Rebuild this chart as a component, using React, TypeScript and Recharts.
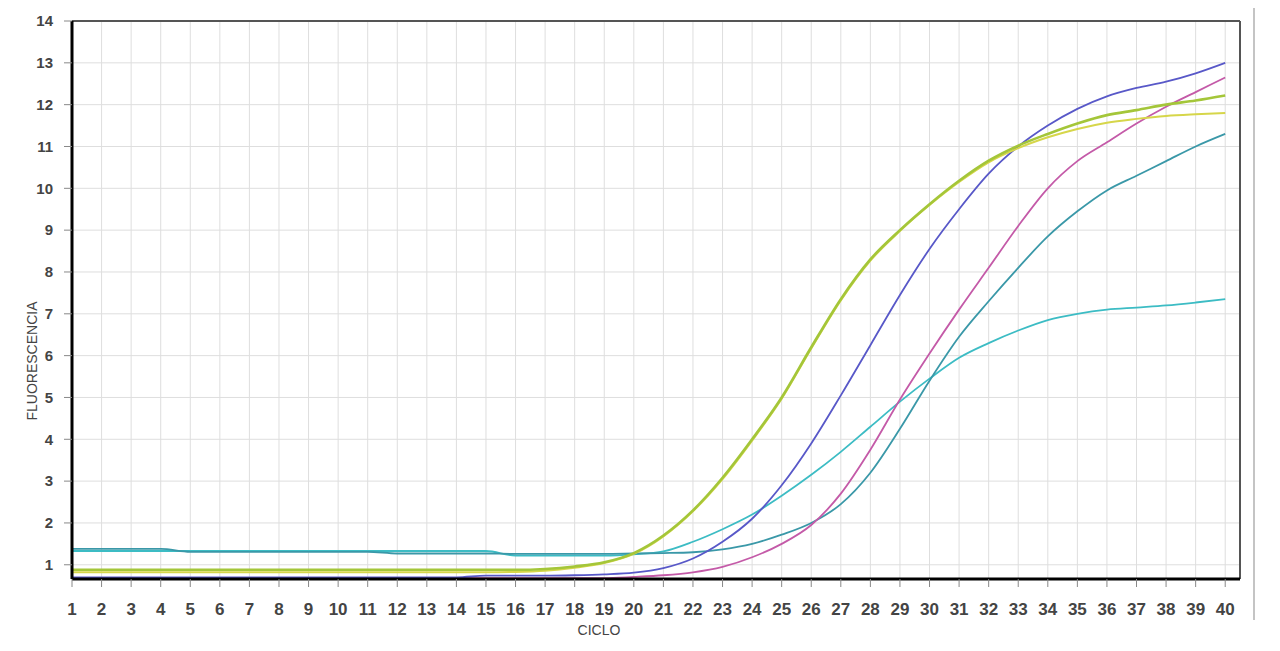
import React from 'react';
import { LineChart, Line, XAxis, YAxis, CartesianGrid, ReferenceLine } from 'recharts';

const cycles = [1, 2, 3, 4, 5, 6, 7, 8, 9, 10, 11, 12, 13, 14, 15, 16, 17, 18, 19, 20, 21, 22, 23, 24, 25, 26, 27, 28, 29, 30, 31, 32, 33, 34, 35, 36, 37, 38, 39, 40];

const greenA = [0.88, 0.88, 0.88, 0.88, 0.88, 0.88, 0.88, 0.88, 0.88, 0.88, 0.88, 0.88, 0.88, 0.88, 0.88, 0.88, 0.9, 0.96, 1.06, 1.28, 1.7, 2.3, 3.08, 4.0, 5.0, 6.2, 7.35, 8.3, 9.0, 9.62, 10.18, 10.66, 11.02, 11.3, 11.55, 11.75, 11.87, 12.0, 12.1, 12.22];
const yellowB = [0.82, 0.82, 0.82, 0.82, 0.82, 0.82, 0.82, 0.82, 0.82, 0.82, 0.82, 0.82, 0.82, 0.82, 0.82, 0.83, 0.86, 0.93, 1.04, 1.26, 1.68, 2.28, 3.05, 3.97, 4.97, 6.17, 7.32, 8.27, 8.98, 9.6, 10.15, 10.62, 10.96, 11.22, 11.42, 11.57, 11.66, 11.73, 11.77, 11.8];
const blue = [0.7, 0.7, 0.7, 0.7, 0.7, 0.7, 0.7, 0.7, 0.7, 0.7, 0.7, 0.7, 0.7, 0.7, 0.74, 0.74, 0.74, 0.75, 0.77, 0.81, 0.92, 1.15, 1.55, 2.1, 2.9, 3.9, 5.05, 6.25, 7.45, 8.55, 9.5, 10.35, 11.0, 11.5, 11.9, 12.2, 12.4, 12.55, 12.75, 13.0];
const pink = [0.68, 0.68, 0.68, 0.68, 0.68, 0.68, 0.68, 0.68, 0.68, 0.68, 0.68, 0.68, 0.68, 0.68, 0.68, 0.68, 0.68, 0.68, 0.68, 0.71, 0.75, 0.82, 0.95, 1.18, 1.5, 1.95, 2.7, 3.75, 4.95, 6.05, 7.1, 8.1, 9.1, 10.0, 10.65, 11.1, 11.55, 11.95, 12.3, 12.65];
const darkTeal = [1.38, 1.38, 1.38, 1.38, 1.31, 1.31, 1.31, 1.31, 1.31, 1.31, 1.31, 1.27, 1.27, 1.27, 1.27, 1.26, 1.26, 1.26, 1.26, 1.27, 1.28, 1.3, 1.37, 1.5, 1.72, 2.0, 2.45, 3.2, 4.25, 5.4, 6.45, 7.3, 8.1, 8.85, 9.45, 9.95, 10.3, 10.65, 11.0, 11.3];
const lightTeal = [1.33, 1.33, 1.33, 1.33, 1.33, 1.33, 1.33, 1.33, 1.33, 1.33, 1.33, 1.33, 1.33, 1.33, 1.33, 1.22, 1.22, 1.22, 1.22, 1.25, 1.32, 1.55, 1.85, 2.2, 2.65, 3.15, 3.7, 4.3, 4.9, 5.45, 5.95, 6.3, 6.6, 6.85, 7.0, 7.1, 7.15, 7.2, 7.27, 7.35];

const yTicks = [1, 2, 3, 4, 5, 6, 7, 8, 9, 10, 11, 12, 13, 14];

const data = cycles.map((c, i) => ({
  cycle: c,
  greenA: greenA[i],
  yellowB: yellowB[i],
  blue: blue[i],
  pink: pink[i],
  darkTeal: darkTeal[i],
  lightTeal: lightTeal[i],
}));

const FONT = '"Liberation Sans", Arial, sans-serif';

const XTitle = (props: any) => {
  const vb = props.viewBox || {};
  return (
    <text x={vb.x + 527} y={vb.y + 56} textAnchor="middle" fontFamily={FONT} fontSize={14} fill="#444">
      CICLO
    </text>
  );
};

const YTitle = (props: any) => {
  const vb = props.viewBox || {};
  const cx = vb.x + 19;
  const cy = vb.y + 340;
  return (
    <text x={cx} y={cy} textAnchor="middle" fontFamily={FONT} fontSize={14} fill="#444" transform={`rotate(-90, ${cx}, ${cy})`}>
      FLUORESCENCIA
    </text>
  );
};

export default function App() {
  return (
    <div style={{ position: 'relative', width: 1272, height: 643 }}>
      <LineChart
        width={1272}
        height={643}
        data={data}
        margin={{ top: 13, right: 40, left: 10, bottom: 12 }}
      >
        <CartesianGrid stroke="#dedede" strokeWidth={1} />
        <XAxis
          dataKey="cycle"
          type="number"
          domain={[1, 40.5]}
          ticks={cycles}
          interval={0}
          height={60}
          axisLine={{ stroke: '#000', strokeWidth: 3 }}
          tickLine={{ stroke: '#888' }}
          tickSize={8}
          tickMargin={16}
          tick={{ fill: '#444', fontSize: 17, fontWeight: 'bold', fontFamily: FONT }}
          label={<XTitle />}
          allowDataOverflow
        />
        <YAxis
          type="number"
          domain={[0.66, 14]}
          ticks={yTicks}
          interval={0}
          width={54}
          axisLine={{ stroke: '#000', strokeWidth: 3 }}
          tickLine={{ stroke: '#888' }}
          tickSize={8}
          tickMargin={11}
          tick={{ fill: '#444', fontSize: 15, fontWeight: 'bold', fontFamily: FONT }}
          label={<YTitle />}
          allowDataOverflow
        />
        <ReferenceLine y={14} stroke="#555" strokeWidth={2} />
        <ReferenceLine x={40.5} stroke="#555" strokeWidth={2} />
        <Line type="monotone" dataKey="lightTeal" stroke="#3cbcc4" strokeWidth={1.8} dot={false} isAnimationActive={false} />
        <Line type="monotone" dataKey="darkTeal" stroke="#3a98a8" strokeWidth={1.8} dot={false} isAnimationActive={false} />
        <Line type="monotone" dataKey="pink" stroke="#c45aa8" strokeWidth={1.8} dot={false} isAnimationActive={false} />
        <Line type="monotone" dataKey="blue" stroke="#5858c8" strokeWidth={1.8} dot={false} isAnimationActive={false} />
        <Line type="monotone" dataKey="yellowB" stroke="#d6d64a" strokeWidth={2} dot={false} isAnimationActive={false} />
        <Line type="monotone" dataKey="greenA" stroke="#a4c639" strokeWidth={2.6} dot={false} isAnimationActive={false} />
      </LineChart>
      <div style={{ position: 'absolute', left: 1245, top: -3, width: 2, height: 615, background: '#c4c4c4' }} />
    </div>
  );
}
